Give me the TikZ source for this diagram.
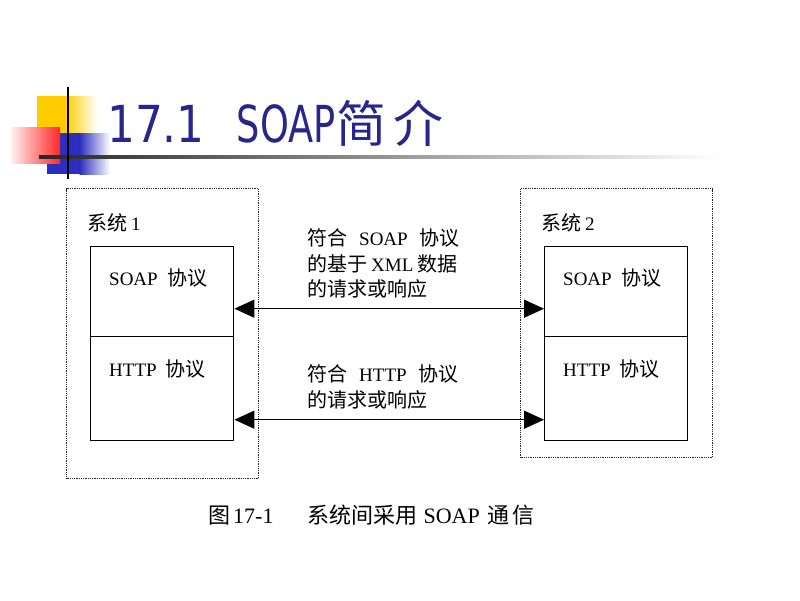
\documentclass[tikz,border=0pt]{standalone}
\usepackage{fontspec}
\setmainfont{Liberation Serif}
\newfontfamily\cjk{Noto Sans CJK SC}
\newfontfamily\titlefont{DejaVu Sans}[FakeStretch=0.72]
\newfontfamily\titlenum{DejaVu Sans}[FakeStretch=0.86]
\usetikzlibrary{arrows.meta,calc}
\definecolor{titleblue}{RGB}{38,38,140}
\definecolor{decoyellow}{RGB}{255,204,0}
\definecolor{decoblue}{RGB}{46,46,190}
\definecolor{decored}{RGB}{255,40,40}
\newcommand{\zh}[1]{{\cjk #1}}
\tikzset{
  outerbox/.style={draw=black!85, line width=1.2pt, dash pattern=on 1pt off 0.8pt, inner sep=0pt, anchor=north west},
  innerbox/.style={draw=black, line width=1.4pt, inner sep=0pt, anchor=north west},
  lbl/.style={anchor=base west, inner sep=0pt, font=\fontsize{19}{22}\selectfont},
  dblarrow/.style={line width=1.4pt, {Triangle[length=20pt,width=18pt]}-{Triangle[length=20pt,width=18pt]}}
}
\begin{document}
\begin{tikzpicture}[x=1pt,y=-1pt]
\useasboundingbox[fill=white] (0,0) rectangle (800,600);
% decoration
\fill[decoyellow] (37,96) rectangle (66,133);
\shade[left color=decoyellow, right color=white] (65.5,96) rectangle (97,133);
\fill[decoblue] (47,133) rectangle (80,174);
\shade[left color=decoblue, right color=white] (79.5,133) rectangle (110,174);
\shade[left color=red!6, right color=decored] (11,127) rectangle (60,163);
\shade[left color=black!85, middle color=black!40, right color=white] (39,155.5) rectangle (720,158.5);
\draw[line width=2pt] (68,87) -- (68,179);
% title
\node[anchor=base west, inner sep=0pt, text=titleblue] (title) at (107,142)
  {{\titlenum\fontsize{51}{56}\selectfont 17.1}\hspace{32pt}{\titlefont\fontsize{51}{56}\selectfont SOAP}\hspace{1pt}{\cjk\fontsize{50}{56}\selectfont 简\hspace{7pt}介}};
% outer boxes
\node[outerbox, minimum width=192pt, minimum height=290pt] (sys1) at (66,188) {};
\node[outerbox, minimum width=192pt, minimum height=269pt] (sys2) at (520,188) {};
% inner boxes
\node[innerbox, minimum width=143pt, minimum height=90pt] (lsoap) at (90,246) {};
\node[innerbox, minimum width=143pt, minimum height=104pt] (lhttp) at (90,336) {};
\node[innerbox, minimum width=143pt, minimum height=90pt] (rsoap) at (544,246) {};
\node[innerbox, minimum width=143pt, minimum height=104pt] (rhttp) at (544,336) {};
% labels
\node[lbl] (sys1lbl) at (87,230) {\zh{\fontsize{20}{24}\selectfont 系统}\hspace{4pt}1};
\node[lbl] (sys2lbl) at (541,230) {\zh{\fontsize{20}{24}\selectfont 系统}\hspace{4pt}2};
\node[lbl] (lsoaplbl) at (109,285) {SOAP\hspace{10pt}\zh{\fontsize{20}{24}\selectfont 协议}};
\node[lbl] (lhttplbl) at (109,376) {HTTP\hspace{9pt}\zh{\fontsize{20}{24}\selectfont 协议}};
\node[lbl] (rsoaplbl) at (563,285) {SOAP\hspace{10pt}\zh{\fontsize{20}{24}\selectfont 协议}};
\node[lbl] (rhttplbl) at (563,376) {HTTP\hspace{9pt}\zh{\fontsize{20}{24}\selectfont 协议}};
% middle texts
\node[lbl] (m1) at (307,245) {\zh{\fontsize{20}{24}\selectfont 符合}\hspace{12pt}SOAP\hspace{12pt}\zh{\fontsize{20}{24}\selectfont 协议}};
\node[lbl] (m2) at (307,271) {\zh{\fontsize{20}{24}\selectfont 的基于}\hspace{4pt}XML\hspace{4pt}\zh{\fontsize{20}{24}\selectfont 数据}};
\node[lbl] (m3) at (307,296) {\zh{\fontsize{20}{24}\selectfont 的请求或响应}};
\node[lbl] (m4) at (307,381) {\zh{\fontsize{20}{24}\selectfont 符合}\hspace{12pt}HTTP\hspace{12pt}\zh{\fontsize{20}{24}\selectfont 协议}};
\node[lbl] (m5) at (307,407) {\zh{\fontsize{20}{24}\selectfont 的请求或响应}};
% arrows
\draw[dblarrow] ([yshift=-17pt]lsoap.east) -- ([yshift=-17pt]rsoap.west);
\draw[dblarrow] ([yshift=-31pt]lhttp.east) -- ([yshift=-31pt]rhttp.west);
% caption
\node[anchor=base west, inner sep=0pt, font=\fontsize{22}{24}\selectfont] (caption) at (208,523)
  {\zh{\fontsize{22}{24}\selectfont 图}\hspace{3pt}17-1\hspace{34pt}\zh{\fontsize{22}{24}\selectfont 系统间采用}\hspace{6pt}SOAP\hspace{8pt}\zh{\fontsize{22}{24}\selectfont 通\hspace{3pt}信}};
\end{tikzpicture}
\end{document}
